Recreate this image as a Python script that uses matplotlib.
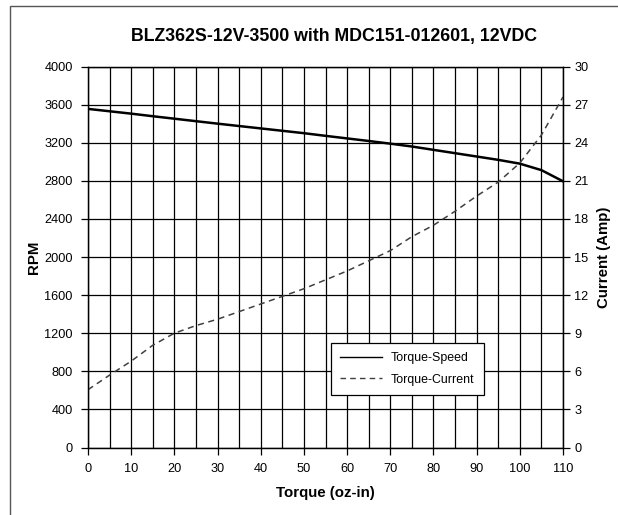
import matplotlib
matplotlib.use("Agg")
import matplotlib.pyplot as plt
from matplotlib.patches import Rectangle

plt.rcParams['font.family'] = ['Liberation Sans', 'DejaVu Sans']

# =================================================
# DATA
# =================================================
torque = [0, 5, 10, 15, 20, 25, 30, 35, 40, 45, 50, 55,
          60, 65, 70, 75, 80, 85, 90, 95, 100, 105, 110]
speed = [3555, 3530, 3505, 3478, 3452, 3426, 3400, 3375, 3350, 3325, 3300, 3272,
         3245, 3218, 3190, 3160, 3125, 3090, 3055, 3020, 2980, 2912, 2795]
current = [4.55, 5.7, 6.8, 8.05, 9.0, 9.6, 10.1, 10.7, 11.3, 11.9, 12.5, 13.2,
           13.9, 14.7, 15.5, 16.6, 17.5, 18.6, 19.8, 20.9, 22.4, 24.6, 27.6]

title = "BLZ362S-12V-3500 with MDC151-012601, 12VDC"
x_ticks = list(range(0, 111, 10))
rpm_ticks = list(range(0, 4001, 400))
amp_ticks = list(range(0, 31, 3))

# =================================================
# FIGURE
# =================================================
W, H = 618, 515
fig = plt.figure(figsize=(W / 100, H / 100), dpi=100)

# outer chart frame (right/bottom edges fall off the picture)
fig.patches.append(Rectangle((10 / W, -0.1), 1.2, 1.1 - 6 / H,
                             transform=fig.transFigure, fill=False,
                             edgecolor="#555555", lw=1.0))

ax = fig.add_axes([88 / W, (H - 447.5) / H, (563 - 88) / W, (447.5 - 66.5) / H])
ax2 = ax.twinx()

ax.plot(torque, speed, color="black", lw=1.8, label="Torque-Speed")
ax2.plot(torque, current, color="#404040", lw=1.1, ls=(0, (4, 3)), label="Torque-Current")

ax.set_xlim(0, 110)
ax.set_ylim(0, 4000)
ax2.set_ylim(0, 30)

ax.set_xticks(x_ticks)
ax.set_xticks(range(0, 111, 5), minor=True)
ax.set_yticks(rpm_ticks)
ax2.set_yticks(amp_ticks)

ax.grid(True, which="both", axis="x", color="black", lw=0.9)
ax.grid(True, which="major", axis="y", color="black", lw=0.9)
ax.set_axisbelow(True)

ax.tick_params(axis="x", which="minor", length=0)
ax.tick_params(axis="both", which="major", direction="out", length=5,
               width=0.9, labelsize=9.2, pad=6)
ax2.tick_params(axis="y", direction="out", length=5, width=0.9,
                labelsize=9.2, pad=3)
ax.tick_params(axis="y", pad=6)

for a in (ax, ax2):
    for s in a.spines.values():
        s.set_linewidth(0.9)
        s.set_color("black")

ax.set_xlabel("Torque (oz-in)", fontsize=10.8, fontweight="bold", labelpad=8)
ax.set_ylabel("RPM", fontsize=10.8, fontweight="bold", labelpad=2)
ax2.set_ylabel("Current (Amp)", fontsize=10.8, fontweight="bold", labelpad=6)

fig.text(334 / W, 1 - 36 / H, title, ha="center", va="center",
         fontsize=12.8, fontweight="bold")

h1, l1 = ax.get_legend_handles_labels()
h2, l2 = ax2.get_legend_handles_labels()
leg = ax2.legend(h1 + h2, l1 + l2, loc="lower left",
                 bbox_to_anchor=((331 - 88) / (563 - 88), (447.5 - 395) / (447.5 - 66.5)),
                 fontsize=8.9, frameon=True, fancybox=False, framealpha=1,
                 edgecolor="black", handlelength=3.4, handletextpad=0.7,
                 borderpad=0.75, labelspacing=0.75, borderaxespad=0)
leg.get_frame().set_linewidth(0.9)
for line in leg.get_lines():
    line.set_linewidth(1.0)
leg._legend_box.align = "left"

fig.savefig("out.png", dpi=100)
